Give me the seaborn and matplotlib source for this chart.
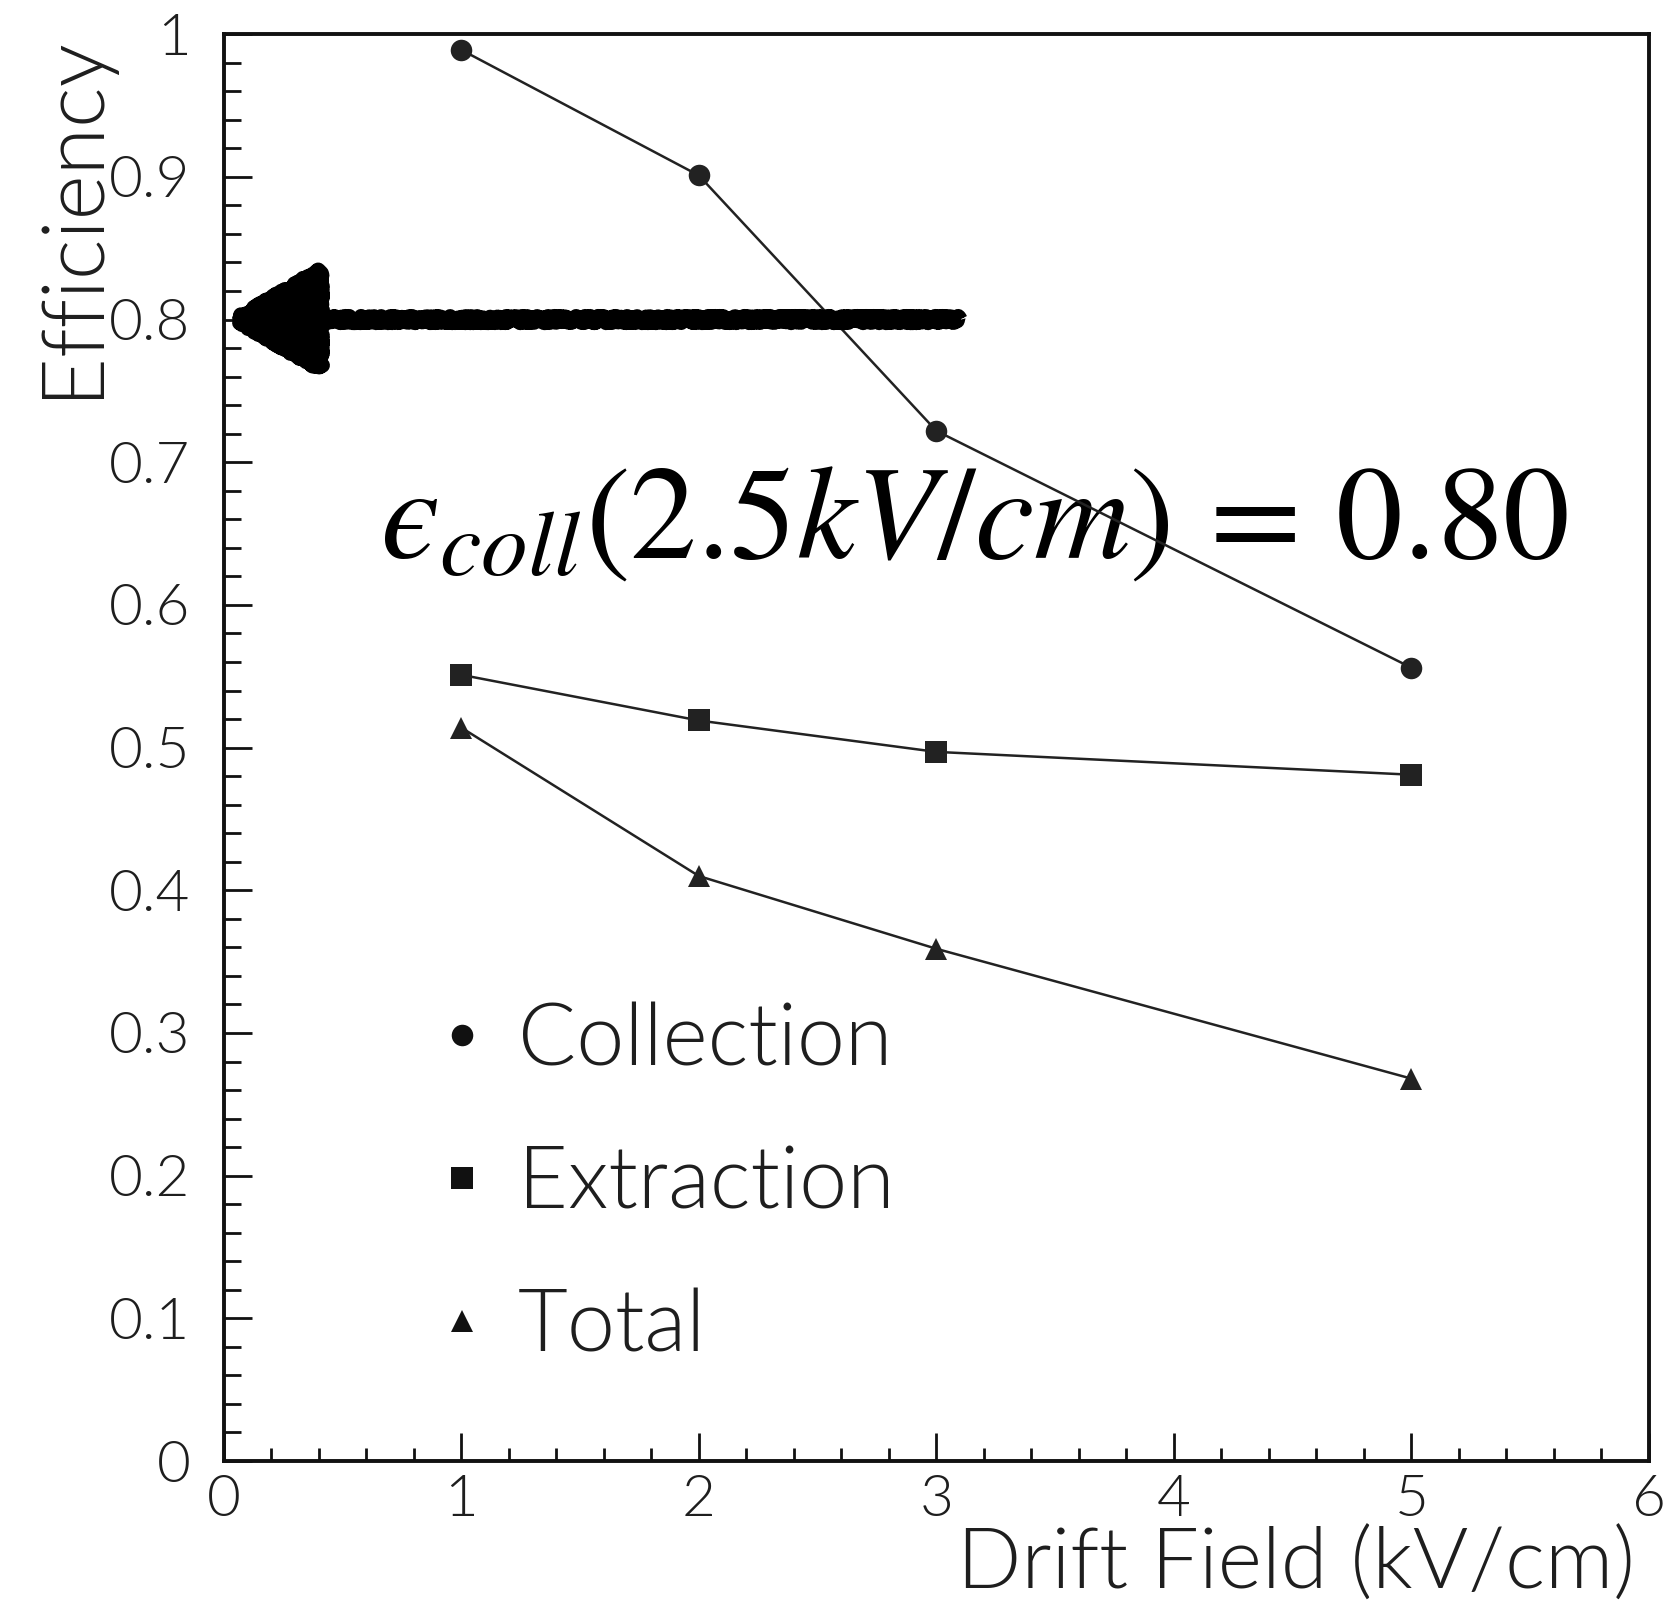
import numpy as np
import pandas as pd
import matplotlib
matplotlib.use("Agg")
import matplotlib.pyplot as plt
import seaborn as sns
from matplotlib.lines import Line2D
from matplotlib.patches import FancyArrowPatch, ArrowStyle
from matplotlib.ticker import MultipleLocator, FuncFormatter

# ---- data -------------------------------------------------------------
drift_field = [1, 2, 3, 5]                      # kV/cm
collection = [0.989, 0.901, 0.722, 0.556]
extraction = [0.551, 0.519, 0.497, 0.481]
total = [0.514, 0.410, 0.359, 0.268]

series_names = ["Collection", "Extraction", "Total"]
series_markers = ["o", "s", "^"]

x_label = "Drift Field (kV/cm)"
y_label = "Efficiency"

# hand-drawn pointer to the collection efficiency at 2.5 kV/cm
arrow_level = 0.80
arrow_tail = 3.1
annotation = "$\N{GREEK LUNATE EPSILON SYMBOL}_{coll}(2.5kV/cm)\\,=\\,0.80$"

# ---- style ------------------------------------------------------------
sns.set_style("white")
plt.rcParams["font.family"] = ["Lato", "DejaVu Sans"]
plt.rcParams["font.weight"] = 300
plt.rcParams["axes.labelweight"] = 300
ink = "#111111"
txt = "#1e1e1e"

df = pd.DataFrame({
    "field": drift_field * 3,
    "eff": collection + extraction + total,
    "series": np.repeat(series_names, len(drift_field)),
})

fig = plt.figure(figsize=(16.7, 16.05), dpi=100)
ax = fig.add_axes([0.134, 0.0897, 0.8534, 0.889])

sns.lineplot(
    data=df, x="field", y="eff", style="series",
    markers=dict(zip(series_names, series_markers)), dashes=False,
    color="#222222", lw=1.8, markersize=15.5, markeredgewidth=0,
    legend=False, sort=False, ax=ax,
)

ax.set_xlim(0, 6)
ax.set_ylim(0, 1)
ax.xaxis.set_major_locator(MultipleLocator(1))
ax.xaxis.set_minor_locator(MultipleLocator(0.2))
ax.yaxis.set_major_locator(MultipleLocator(0.1))
ax.yaxis.set_minor_locator(MultipleLocator(0.02))
fmt = FuncFormatter(lambda v, _: f"{v:g}")
ax.xaxis.set_major_formatter(fmt)
ax.yaxis.set_major_formatter(fmt)

ax.tick_params(which="both", direction="in", top=False, right=False,
               bottom=True, left=True,
               color=ink, width=2.0, labelcolor=txt, labelsize=42)
ax.tick_params(axis="x", which="major", length=20, pad=10)
ax.tick_params(axis="x", which="minor", length=9.5)
ax.tick_params(axis="y", which="major", length=20, pad=24)
ax.tick_params(axis="y", which="minor", length=12)
for sp in ax.spines.values():
    sp.set_linewidth(2.8)
    sp.set_color(ink)

ax.set_xlabel(x_label, fontsize=61, color=txt, ha="right")
ax.xaxis.set_label_coords(0.990, -0.046)
ax.set_ylabel(y_label, fontsize=62, color=txt, loc="top")
ax.yaxis.set_label_coords(-0.079, 1.0)

handles = [Line2D([], [], ls="none", marker=m, markersize=15.5,
                  markeredgewidth=0, color=ink) for m in series_markers]
ax.legend(handles, series_names, frameon=False, loc="upper left",
          bbox_to_anchor=(0.149, 0.322), borderaxespad=0, borderpad=0,
          fontsize=62, handlelength=0.6, handletextpad=0.35,
          labelspacing=0.75, labelcolor=txt)

ax.text(0.657, 0.6335, annotation, fontsize=96, va="baseline", ha="left",
        color="black", math_fontfamily="stix", zorder=1)

arrow = FancyArrowPatch(
    posA=(arrow_tail, arrow_level), posB=(0.0, arrow_level),
    arrowstyle=ArrowStyle("-|>", head_length=58, head_width=34),
    mutation_scale=1, shrinkA=0, shrinkB=0, lw=11, color="black",
    capstyle="butt", zorder=5, clip_on=False,
)
arrow.set_sketch_params(scale=3, length=3, randomness=3)
ax.add_patch(arrow)

fig.savefig("out.png", dpi=100)
